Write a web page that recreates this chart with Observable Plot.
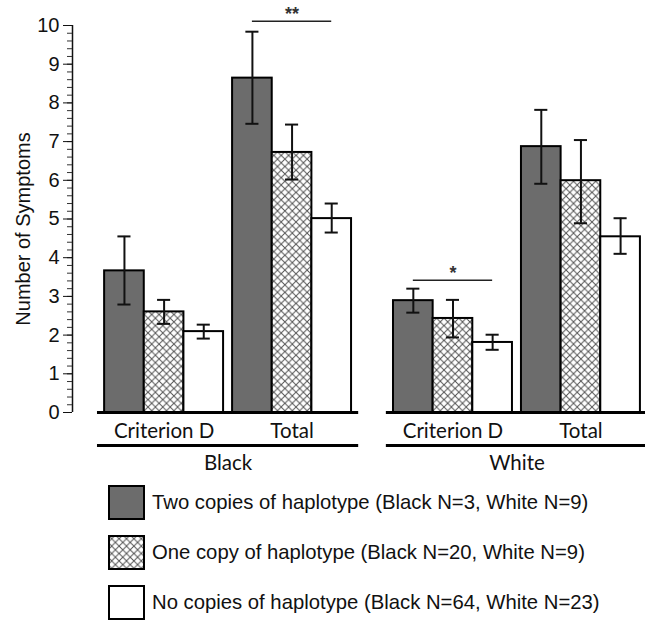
<!DOCTYPE html>
<html>
<head>
<meta charset="utf-8">
<script src="https://cdn.jsdelivr.net/npm/d3@7"></script>
<script src="https://cdn.jsdelivr.net/npm/@observablehq/plot@0.6"></script>
<style>
  body { margin: 0; background: #fff; font-family: "Liberation Sans", Arial, sans-serif; }
  #chart svg { display: block; overflow: visible; }
  #legend { position: relative; width: 645px; height: 145px; }
  .row { position: absolute; left: 108px; height: 35px; display: flex; align-items: center; }
  .row svg { display: block; flex: none; }
  .row span { margin-left: 7px; font-size: 20.3px; color: #111; white-space: nowrap; }
</style>
</head>
<body>
<svg width="0" height="0" style="position:absolute">
  <defs>
    <pattern id="xhatch" patternUnits="userSpaceOnUse" width="7.4" height="7.4">
      <rect width="7.4" height="7.4" fill="#fff"></rect>
      <path d="M-1,-1L8.4,8.4M8.4,-1L-1,8.4" stroke="#555" stroke-width="1"></path>
    </pattern>
  </defs>
</svg>
<div id="chart"></div>
<div id="legend"></div>
<script>
// ---- data ----
const races = ["Black", "White"];
const measures = ["Criterion D", "Total"];
const haplotypes = ["Two copies of haplotype", "One copy of haplotype", "No copies of haplotype"];
const legendLabels = [
  "Two copies of haplotype (Black N=3, White N=9)",
  "One copy of haplotype (Black N=20, White N=9)",
  "No copies of haplotype (Black N=64, White N=23)"
];
// order: Black-Criterion D (two, one, none), Black-Total, White-Criterion D, White-Total
const means   = [3.66, 2.60, 2.09,  8.64, 6.72, 5.01,  2.89, 2.43, 1.81,  6.87, 5.99, 4.54];
const errHigh = [4.55, 2.91, 2.27,  9.84, 7.44, 5.40,  3.20, 2.91, 2.01,  7.82, 7.04, 5.02];
const errLow  = [2.79, 2.29, 1.91,  7.46, 6.02, 4.65,  2.58, 1.94, 1.62,  5.91, 4.89, 4.10];
const yTicks = [0, 1, 2, 3, 4, 5, 6, 7, 8, 9, 10];
const significance = [
  {race: "Black", measure: "Total", label: "**", y: 10.11},
  {race: "White", measure: "Criterion D", label: "*", y: 3.42}
];

// ---- layout (in bar-width units) ----
const measureGap = 0.227;
const raceGap = 1.058;
const pad = 0.18;
const cap = 0.165;
const measureStep = haplotypes.length + measureGap;
const raceStep = measures.length * haplotypes.length + measureGap + raceGap;
const xDomain = [-0.81, 13.64];
const fills = ["#6c6c6c", "url(#xhatch)", "#ffffff"];

const rows = [];
races.forEach((race, ri) => measures.forEach((measure, mi) => haplotypes.forEach((hap, hi) => {
  const k = ri * measures.length * haplotypes.length + mi * haplotypes.length + hi;
  const x1 = ri * raceStep + mi * measureStep + hi;
  rows.push({race, measure, hap, mean: means[k], hi: errHigh[k], lo: errLow[k], x1, x2: x1 + 1, xc: x1 + 0.5});
})));
const groups = [];
races.forEach((race, ri) => measures.forEach((measure, mi) => {
  const x0 = ri * raceStep + mi * measureStep;
  groups.push({race, measure, xc: x0 + haplotypes.length / 2});
}));
const raceSpans = races.map((race, ri) => {
  const x0 = ri * raceStep;
  const x1 = x0 + measures.length * haplotypes.length + measureGap;
  return {race, x1: x0 - pad, x2: x1 + pad, xc: (x0 + x1) / 2};
});
const sigRows = significance.map(s => {
  const bars = rows.filter(r => r.race === s.race && r.measure === s.measure);
  return {...s, x1: bars[0].xc, x2: bars[bars.length - 1].xc, xc: (bars[0].xc + bars[bars.length - 1].xc) / 2};
});
const minorTicks = d3.range(0, 51).map(i => i / 5);

const catFont = "Lato, 'Open Sans', sans-serif";

const chart = Plot.plot({
  width: 645,
  height: 475,
  marginLeft: 72,
  marginRight: 0,
  marginTop: 25,
  marginBottom: 63,
  style: {fontFamily: "'Liberation Sans', Arial, sans-serif", fontSize: "20px", color: "#111", overflow: "visible"},
  x: {domain: xDomain, axis: null},
  y: {domain: [0, 10], axis: null},
  color: {type: "ordinal", domain: haplotypes, range: fills},
  marks: [
    Plot.rectY(rows, {x1: "x1", x2: "x2", y: "mean", fill: "hap", stroke: "#000", strokeWidth: 2}),
    Plot.ruleX(rows, {x: "xc", y1: "lo", y2: "hi", stroke: "#111", strokeWidth: 2}),
    Plot.ruleY(rows, {y: "hi", x1: d => d.xc - cap, x2: d => d.xc + cap, stroke: "#111", strokeWidth: 2}),
    Plot.ruleY(rows, {y: "lo", x1: d => d.xc - cap, x2: d => d.xc + cap, stroke: "#111", strokeWidth: 2}),
    // baselines and group underlines
    Plot.ruleY(raceSpans, {y: 0, x1: "x1", x2: "x2", stroke: "#000", strokeWidth: 3}),
    Plot.ruleY(raceSpans, {y: 0, x1: "x1", x2: "x2", stroke: "#000", strokeWidth: 3, dy: 33}),
    Plot.text(groups, {x: "xc", frameAnchor: "bottom", lineAnchor: "middle", dy: 19, text: "measure", fontSize: 20.5, fontFamily: catFont, fill: "#111"}),
    Plot.text(raceSpans, {x: "xc", frameAnchor: "bottom", lineAnchor: "middle", dy: 51, text: "race", fontSize: 20.5, fontFamily: catFont, fill: "#111"}),
    // significance
    Plot.ruleY(sigRows, {y: "y", x1: "x1", x2: "x2", stroke: "#222", strokeWidth: 1.5}),
    Plot.text(sigRows, {x: "xc", y: "y", text: "label", dy: -7, fontSize: 18, fontWeight: "bold", fill: "#333"}),
    // y axis
    Plot.ruleX([xDomain[0]], {y1: 0, y2: 10, stroke: "#111", strokeWidth: 1.5}),
    Plot.axisY({ticks: minorTicks, tickSize: 5, text: null, label: null, stroke: "#333"}),
    Plot.axisY({ticks: yTicks, tickSize: 9, tickPadding: 4, label: null, fontSize: 20, stroke: "#111", fill: "#111"}),
    Plot.text(["Number of Symptoms"], {frameAnchor: "left", textAnchor: "middle", rotate: -90, dx: -49, dy: 10, fontSize: 20, fill: "#111"})
  ]
});
document.getElementById("chart").append(chart);

// legend
const legend = document.getElementById("legend");
legendLabels.forEach((label, i) => {
  const row = document.createElement("div");
  row.className = "row";
  row.style.top = (10 + i * 50) + "px";
  row.innerHTML = `<svg width="37" height="35"><rect x="1" y="1" width="35" height="33" fill="${fills[i]}" stroke="#000" stroke-width="2"></rect></svg><span>${label}</span>`;
  legend.append(row);
});
</script>
</body>
</html>
